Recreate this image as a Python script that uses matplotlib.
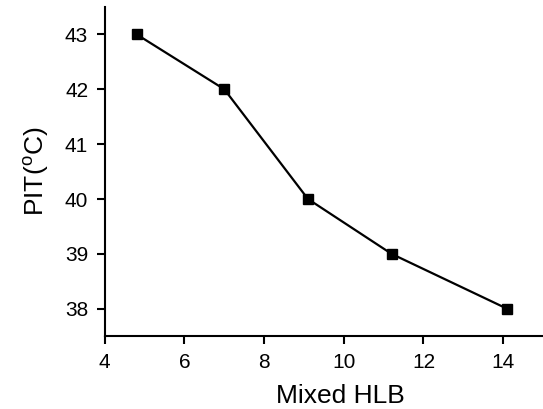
import matplotlib
matplotlib.use("Agg")
import matplotlib.pyplot as plt

# mixed HLB of the surfactant blend vs phase inversion temperature
hlb = [4.8, 7.0, 9.1, 11.2, 14.1]
pit = [43, 42, 40, 39, 38]
x_ticks = [4, 6, 8, 10, 12, 14]
y_ticks = [38, 39, 40, 41, 42, 43]

plt.rcParams['font.family'] = ['Liberation Sans', 'DejaVu Sans']
plt.rcParams['mathtext.fontset'] = 'custom'
plt.rcParams['mathtext.rm'] = 'Liberation Sans'

fig = plt.figure(figsize=(5.43, 4.09), dpi=100)
ax = fig.add_axes([0.193, 0.178, 0.807, 0.805])

ax.plot(hlb, pit, color="black", lw=1.6, marker="s", ms=7,
        mfc="black", mec="black")

ax.set_xlim(4, 15)
ax.set_ylim(37.5, 43.5)
ax.set_xticks(x_ticks)
ax.set_yticks(y_ticks)

for side in ["top", "right"]:
    ax.spines[side].set_visible(False)
for side in ["left", "bottom"]:
    ax.spines[side].set_linewidth(1.5)
ax.tick_params(direction="out", length=6, width=1.5, labelsize=15, pad=6)

ax.set_xlabel("Mixed HLB", fontsize=19)
ax.set_ylabel("PIT($^{\\mathrm{o}}$C)", fontsize=19, labelpad=10)
ax.xaxis.set_label_coords(0.537, -0.145)

fig.savefig("out.png", dpi=100)
